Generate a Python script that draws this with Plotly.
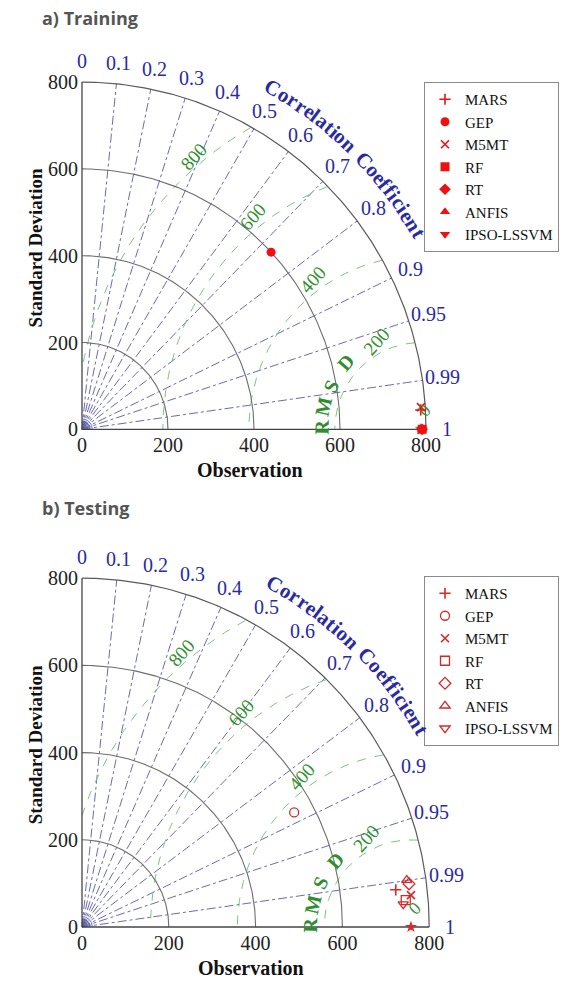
import numpy as np
import plotly.graph_objects as go

W, H = 566, 981

# ---------------- data ----------------
models = ["MARS", "GEP", "M5MT", "RF", "RT", "ANFIS", "IPSO-LSSVM"]

train_std = [789, 600, 790, 791, 791, 790, 790]
train_corr = [0.9984, 0.733, 0.9979, 1.0, 1.0, 1.0, 1.0]
train_ref_std = 788

test_std = [728, 555, 761.5, 748.5, 760, 756, 742]
test_corr = [0.9931, 0.8808, 0.9954, 0.9966, 0.9915, 0.9898, 0.9975]
test_ref_std = 758

train_symbols = ["cross-thin", "circle", "x-thin", "square", "diamond", "triangle-up", "triangle-down"]
test_symbols = ["cross-thin", "circle-open", "x-thin", "square-open", "diamond-open",
                "triangle-up-open", "triangle-down-open"]

std_ticks = [0, 200, 400, 600, 800]
std_arcs = [200, 400, 600]
std_max = 800
corr_ticks = [0, 0.1, 0.2, 0.3, 0.4, 0.5, 0.6, 0.7, 0.8, 0.9, 0.95, 0.99, 1]
corr_labels = ["0", "0.1", "0.2", "0.3", "0.4", "0.5", "0.6", "0.7", "0.8", "0.9", "0.95", "0.99", "1"]
corr_lines = [0.1, 0.2, 0.3, 0.4, 0.5, 0.6, 0.7, 0.8, 0.9, 0.95, 0.99]
rmsd_levels = [200, 400, 600, 800]
rmsd_label_angles = [117, 126, 128.5, 130]

# ---------------- style ----------------
SERIF = "Liberation Serif"
NAVY = "#2a2aa3"
GREEN_TXT = "#2f8f2f"
GREEN_LINE = "#7fc27f"
CORR_LINE = "rgba(90,90,165,0.9)"
ARC = "#6e6e6e"
RED = "#ee1111"
RED2 = "#d42a2a"

panels = [
    dict(k="", std=train_std, corr=train_corr, ref=train_ref_std, symbols=train_symbols,
         ox=82, oy=429.3, sx=0.43, sy=0.434, dom=[0.5005, 1.0], title="a) Training",
         title_y=18, legend="legend", color=RED),
    dict(k="2", std=test_std, corr=test_corr, ref=test_ref_std, symbols=test_symbols,
         ox=82, oy=927, sx=0.434, sy=0.436, dom=[0.0, 0.5005], title="b) Testing",
         title_y=508, legend="legend2", color=RED2),
]

fig = go.Figure()
annotations = []
layout_axes = {}

for p in panels:
    xa, ya = "x" + p["k"], "y" + p["k"]
    ref = p["ref"]

    def line(x, y, color, width=1, dash="solid"):
        fig.add_trace(go.Scatter(x=x, y=y, mode="lines", xaxis=xa, yaxis=ya,
                                 line=dict(color=color, width=width, dash=dash),
                                 showlegend=False, hoverinfo="skip"))

    th = np.linspace(0, np.pi / 2, 200)
    # tiny arcs at origin
    for r in [6, 12, 18, 24]:
        line(r * np.cos(th), r * np.sin(th), "rgba(70,70,190,0.8)", 1)
    # correlation lines
    for c in corr_lines:
        a = np.arccos(c)
        line([0, std_max * np.cos(a)], [0, std_max * np.sin(a)], CORR_LINE, 1, "dashdot")
    # RMSD circles
    for r in rmsd_levels:
        t = np.linspace(0, np.pi, 800)
        x = ref + r * np.cos(t)
        y = r * np.sin(t)
        m = (np.hypot(x, y) <= std_max) & (x >= 0)
        line(x[m], y[m], GREEN_LINE, 1, "dash")
    # std arcs
    for r in std_arcs:
        line(r * np.cos(th), r * np.sin(th), ARC, 1.1)
    line(std_max * np.cos(th), std_max * np.sin(th), "#5a5a5a", 1.2)
    # axes lines
    line([0, std_max], [0, 0], "#444444", 1.3)
    line([0, 0], [0, std_max], "#444444", 1.3)

    # observation point
    fig.add_trace(go.Scatter(x=[ref], y=[0], mode="markers", xaxis=xa, yaxis=ya,
                             marker=dict(symbol="star", size=9, color=p["color"]),
                             showlegend=False, hoverinfo="skip"))
    # models
    for name, s, c, sym in zip(models, p["std"], p["corr"], p["symbols"]):
        a = np.arccos(min(c, 1.0))
        thin = sym.endswith("thin")
        opn = sym.endswith("open")
        fig.add_trace(go.Scatter(
            x=[s * np.cos(a)], y=[s * np.sin(a)], mode="markers", name=name,
            xaxis=xa, yaxis=ya, legend=p["legend"],
            marker=dict(symbol=sym, size=9 if not thin else 8, color=p["color"],
                        line=dict(color=p["color"], width=1.6 if thin else (1.3 if opn else 0))),
        ))

    # axes
    xr = [(0 - p["ox"]) / p["sx"], (W - p["ox"]) / p["sx"]]
    py_bot = H * (1 - p["dom"][0])
    py_top = H * (1 - p["dom"][1])
    yr = [(p["oy"] - py_bot) / p["sy"], (p["oy"] - py_top) / p["sy"]]
    tickfont = dict(family=SERIF, size=20, color="#222222")
    layout_axes["xaxis" + p["k"]] = dict(
        domain=[0, 1], range=xr, anchor="free", position=(H - p["oy"]) / H,
        tickvals=std_ticks, ticktext=[str(v) for v in std_ticks], tickfont=tickfont,
        showgrid=False, zeroline=False, showline=False, ticks="", ticklabelstandoff=2,
        fixedrange=True)
    layout_axes["yaxis" + p["k"]] = dict(
        domain=p["dom"], range=yr, anchor="free", position=p["ox"] / W,
        tickvals=std_ticks, ticktext=[str(v) for v in std_ticks], tickfont=tickfont,
        showgrid=False, zeroline=False, showline=False, ticks="", ticklabelstandoff=4,
        fixedrange=True)

    def ann(x, y, text, size, color, angle=0, bold=False, **kw):
        d = dict(x=x, y=y, xref=xa, yref=ya, text=text, showarrow=False, textangle=angle,
                 font=dict(family=SERIF, size=size, color=color,
                           weight="bold" if bold else "normal"))
        d.update(kw)
        annotations.append(d)

    # correlation labels
    for c, lab in zip(corr_ticks, corr_labels):
        a = np.arccos(c)
        ann(848 * np.cos(a), 848 * np.sin(a), lab, 20, NAVY)

    # Correlation Coefficient curved title
    title = "Correlation Coefficient"
    wid = {"C": .722, "o": .5, "r": .444, "e": .444, "l": .278, "a": .5, "t": .333,
           "i": .278, "n": .556, " ": .3, "f": .333, "c": .444}
    widths = np.array([wid[ch] for ch in title])
    centers = np.cumsum(widths) - widths / 2
    frac = (centers - centers[0]) / (centers[-1] - centers[0])
    angs = 60.6 + (30.0 - 60.6) * frac
    for ch, phi in zip(title, angs):
        if ch == " ":
            continue
        pr = np.radians(phi)
        ann(903 * np.cos(pr), 903 * np.sin(pr), ch, 21, NAVY, angle=90 - phi, bold=True)

    # RMSD level labels
    for r, phi in zip(rmsd_levels, rmsd_label_angles):
        pr = np.radians(phi)
        rr = r + (28 if r < 800 else 22)
        ann(ref + rr * np.cos(pr), rr * np.sin(pr), str(r), 19, GREEN_TXT, angle=-48)
    # green 0 near reference
    ann(ref + 9, 44, "0", 18, GREEN_TXT, angle=-45)

    # RMSD letters
    for ch, phi in zip("RMSD", [179.0, 166.8, 154.3, 139.0]):
        pr = np.radians(phi)
        ann(ref + 232 * np.cos(pr), 232 * np.sin(pr), ch, 20, GREEN_TXT, angle=90 - phi, bold=True)

    # axis titles
    ann(390, 0, "Observation", 20, "#111111", bold=True, yshift=-41)
    annotations.append(dict(x=23 / W, xref="paper", y=418, yref=ya, text="Standard Deviation",
                            showarrow=False, textangle=-90,
                            font=dict(family=SERIF, size=19, color="#111111", weight="bold")))
    # panel title
    annotations.append(dict(x=40 / W, xref="paper", xanchor="left", y=1 - p["title_y"] / H,
                            yref="paper", yanchor="middle", text=p["title"], showarrow=False,
                            font=dict(family="Open Sans", size=18, color="#555555", weight="bold")))

legend_common = dict(xanchor="left", yanchor="top", bgcolor="white", bordercolor="#8a8a8a",
                     borderwidth=1, font=dict(family=SERIF, size=15, color="#111111"),
                     tracegroupgap=0, itemwidth=30)

fig.update_layout(
    width=W, height=H, margin=dict(l=0, r=0, t=0, b=0),
    paper_bgcolor="white", plot_bgcolor="white",
    showlegend=True, hovermode=False,
    legend=dict(x=424 / W, y=1 - 82 / H, **legend_common),
    legend2=dict(x=424 / W, y=1 - 576 / H, **legend_common),
    annotations=annotations,
    **layout_axes,
)

fig.write_html("out.html")
